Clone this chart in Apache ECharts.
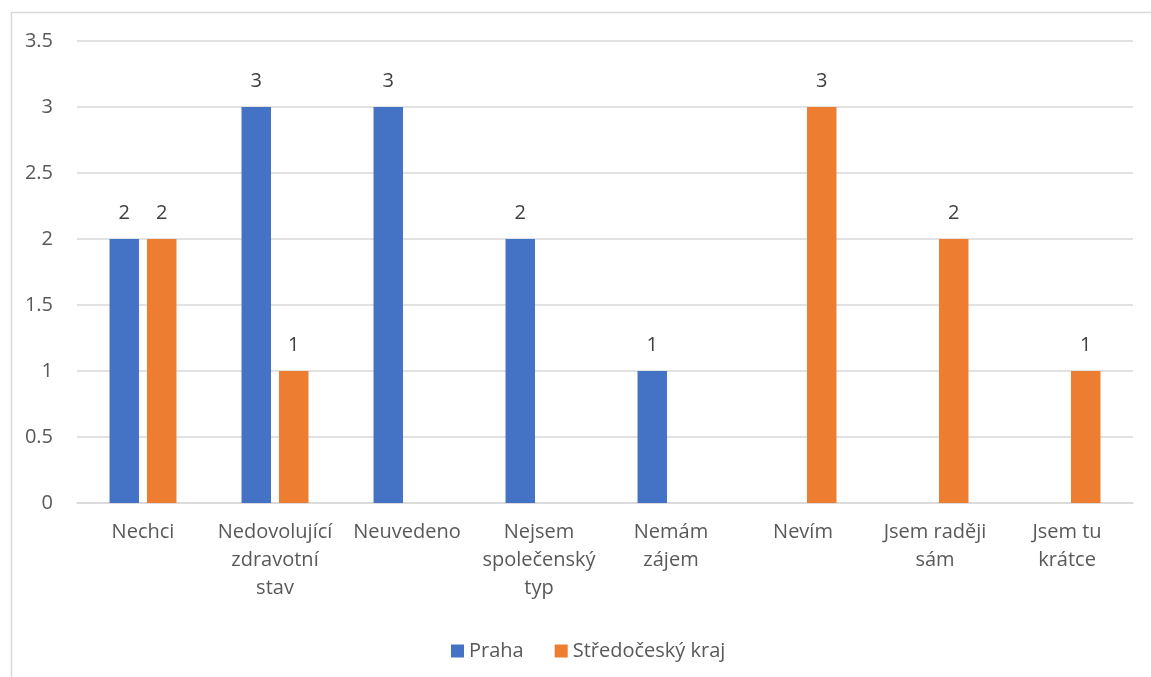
<!DOCTYPE html>
<html>
<head>
<meta charset="utf-8">
<script src="https://cdn.jsdelivr.net/npm/echarts@6/dist/echarts.min.js"></script>
<style>
html,body{margin:0;padding:0;background:#fff;}
#c{width:1151px;height:677px;}
</style>
</head>
<body>
<div id="c"></div>
<script>
const categories = ["Nechci", "Nedovolující\nzdravotní\nstav", "Neuvedeno", "Nejsem\nspolečenský\ntyp", "Nemám\nzájem", "Nevím", "Jsem raději\nsám", "Jsem tu\nkrátce"];
const seriesNames = ["Praha", "Středočeský kraj"];
const praha = [2, 3, 3, 2, 1, null, null, null];
const stredocesky = [2, 1, null, null, null, 3, 2, 1];
const yTicks = [0, 0.5, 1, 1.5, 2, 2.5, 3, 3.5];

const FONT = '"Open Sans", Lato, sans-serif';
const FS = 20;
const chart = echarts.init(document.getElementById('c'));
const labelCfg = {show: true, position: 'top', distance: 16, color: '#404040', fontSize: FS, fontFamily: FONT};
chart.setOption({
  animation: false,
  textStyle: {fontFamily: FONT},
  graphic: [{
    type: 'rect', shape: {x: 11.5, y: 12.5, width: 1200, height: 700},
    style: {fill: 'none', stroke: '#D9D9D9', lineWidth: 1.5}, silent: true
  }],
  grid: {left: 77, right: 18, top: 41, bottom: 174},
  legend: {
    data: seriesNames, bottom: 11, left: 446, itemWidth: 13, itemHeight: 13, itemGap: 31,
    icon: 'rect', textStyle: {color: '#595959', fontSize: FS, fontFamily: FONT}
  },
  xAxis: {
    type: 'category', data: categories,
    axisLine: {show: true, lineStyle: {color: '#D9D9D9', width: 1.5}},
    axisTick: {show: false},
    axisLabel: {color: '#595959', fontSize: FS, lineHeight: 28, margin: 15, interval: 0, fontFamily: FONT}
  },
  yAxis: {
    type: 'value', min: yTicks[0], max: yTicks[yTicks.length - 1], interval: 0.5,
    axisLine: {show: false}, axisTick: {show: false},
    splitLine: {lineStyle: {color: '#D9D9D9', width: 1.5}},
    axisLabel: {color: '#595959', fontSize: FS, margin: 24, fontFamily: FONT}
  },
  series: [
    {name: seriesNames[0], type: 'bar', data: praha, barWidth: 29.5, barGap: '27%',
     itemStyle: {color: '#4472C4'}, label: labelCfg},
    {name: seriesNames[1], type: 'bar', data: stredocesky, barWidth: 29.5, barGap: '27%',
     itemStyle: {color: '#ED7D31'}, label: labelCfg}
  ]
});
</script>
</body>
</html>
